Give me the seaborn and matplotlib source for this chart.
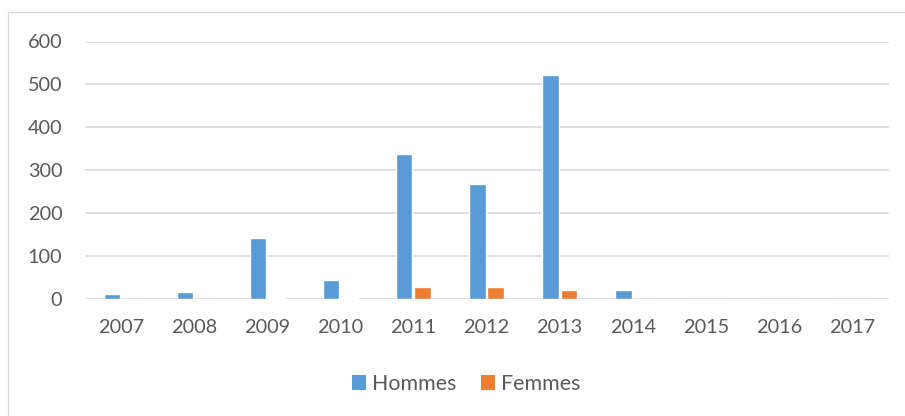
import matplotlib
matplotlib.use("Agg")
import matplotlib.pyplot as plt
from matplotlib.patches import Rectangle, Patch
import seaborn as sns
import pandas as pd

years = ["2007", "2008", "2009", "2010", "2011", "2012", "2013", "2014", "2015", "2016", "2017"]
hommes = [11, 15, 142, 43, 337, 267, 522, 20, 0, 0, 0]
femmes = [0, 0, 1, 1, 27, 27, 20, 0, 0, 0, 0]
series = ["Hommes", "Femmes"]
colors = ["#5B9BD5", "#ED7D31"]
yticks = [0, 100, 200, 300, 400, 500, 600]

df = pd.DataFrame({
    "year": years * 2,
    "value": hommes + femmes,
    "sex": [series[0]] * len(years) + [series[1]] * len(years),
})

sns.set_style("white")
plt.rcParams["font.family"] = ["Lato", "DejaVu Sans"]

W, H = 905, 416
fig = plt.figure(figsize=(W / 100, H / 100), dpi=100)
left, right, top, bottom = 84.5, 888.5, 41.5, 298.5
ax = fig.add_axes([left / W, 1 - bottom / H, (right - left) / W, (bottom - top) / H])

sns.barplot(data=df, x="year", y="value", hue="sex", palette=colors,
            width=0.5, gap=0.1, ax=ax, legend=False, saturation=1)

FS = 14.3
LFS = 15.4
ax.set_ylim(0, 600)
ax.set_yticks(yticks)
ax.set_xlim(-0.5, len(years) - 0.5)
ax.set_xlabel("")
ax.set_ylabel("")
for s in ax.spines.values():
    s.set_visible(False)
ax.yaxis.grid(True, color="#D9D9D9", linewidth=1.2)
ax.set_axisbelow(True)
ax.tick_params(axis="both", length=0, labelsize=FS, colors="#595959")
ax.tick_params(axis="y", pad=16)
ax.tick_params(axis="x", pad=15)

handles = [Patch(facecolor=c, edgecolor="none") for c in colors]
fig.legend(handles, series, loc="center", bbox_to_anchor=(466.5 / W, 1 - 384 / H),
           ncol=2, frameon=False, fontsize=LFS, labelcolor="#595959",
           handlelength=0.65, handleheight=0.65, handletextpad=0.28, columnspacing=1.15,
           borderpad=0, borderaxespad=0)

fig.add_artist(Rectangle((8 / W, -0.05), 1.2, 1.05 - 12 / H, transform=fig.transFigure,
                         fill=False, edgecolor="#D9D9D9", linewidth=1))

fig.savefig("out.png", dpi=100)
